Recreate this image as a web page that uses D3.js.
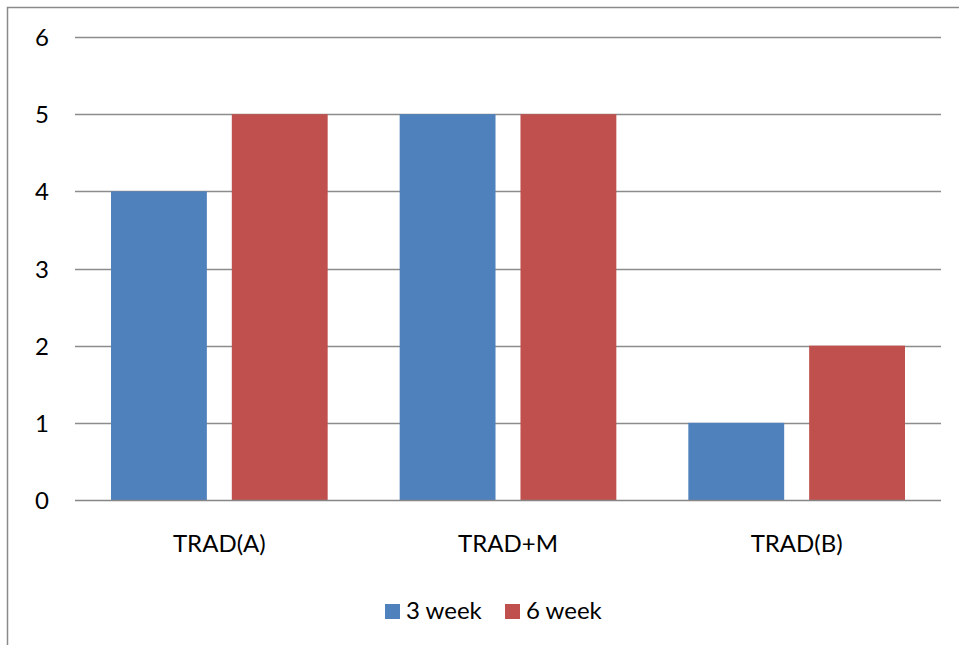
<!DOCTYPE html>
<html>
<head>
<meta charset="utf-8">
<script src="https://cdn.jsdelivr.net/npm/d3@7"></script>
<style>
  html, body { margin: 0; padding: 0; background: #fff; }
  svg { display: block; font-family: Lato, "Open Sans", sans-serif; }
</style>
</head>
<body>
<svg id="chart" width="959" height="645"></svg>
<script>
// Chart data
const categories = ["TRAD(A)", "TRAD+M", "TRAD(B)"];
const seriesNames = ["3 week", "6 week"];
const week3 = [4, 5, 1];
const week6 = [5, 5, 2];
const yTicks = [0, 1, 2, 3, 4, 5, 6];
const colors = ["#4F81BD", "#C0504D"];

const rows = categories.map((c, i) => ({ cat: c, values: [week3[i], week6[i]] }));

const FONT = "Lato, 'Open Sans', sans-serif";
const FONT_SIZE = 24;

const svg = d3.select("#chart");

// Outer chart frame
svg.append("rect")
  .attr("x", 7.5).attr("y", 7.5)
  .attr("width", 1000).attr("height", 700)
  .attr("fill", "none")
  .attr("stroke", "#8a8a8a")
  .attr("stroke-width", 1.5);

const plot = { left: 75, right: 941, top: 37, bottom: 500 };

const y = d3.scaleLinear().domain([0, 6]).range([plot.bottom, plot.top]);
const x = d3.scaleBand().domain(categories).range([plot.left, plot.right]).padding(0);
const outerGap = 36;
const xInner = d3.scaleBand()
  .domain(d3.range(seriesNames.length))
  .range([outerGap, x.bandwidth() - outerGap])
  .paddingInner(0.2066)
  .paddingOuter(0);

// Horizontal gridlines
svg.append("g")
  .selectAll("line")
  .data(yTicks.filter(t => t !== 0))
  .join("line")
  .attr("x1", plot.left).attr("x2", plot.right)
  .attr("y1", d => Math.round(y(d)) + 0.5)
  .attr("y2", d => Math.round(y(d)) + 0.5)
  .attr("stroke", "#8c8c8c")
  .attr("stroke-width", 1.5);

// Bars
const groups = svg.append("g")
  .selectAll("g")
  .data(rows)
  .join("g")
  .attr("transform", d => `translate(${x(d.cat)},0)`);

groups.selectAll("rect")
  .data(d => d.values.map((v, i) => ({ v, i })))
  .join("rect")
  .attr("x", d => xInner(d.i))
  .attr("width", xInner.bandwidth())
  .attr("y", d => y(d.v))
  .attr("height", d => y(0) - y(d.v))
  .attr("fill", d => colors[d.i]);

// Baseline
svg.append("line")
  .attr("x1", plot.left).attr("x2", plot.right)
  .attr("y1", y(0) + 0.5).attr("y2", y(0) + 0.5)
  .attr("stroke", "#868686")
  .attr("stroke-width", 1.5);

// Y axis labels
const yAxis = d3.axisLeft(y).tickValues(yTicks).tickSize(0).tickPadding(0).tickFormat(d3.format("d"));
const yg = svg.append("g").attr("transform", `translate(49,0)`).call(yAxis);
yg.select(".domain").remove();
yg.selectAll("text")
  .attr("font-size", FONT_SIZE)
  .attr("font-family", FONT)
  .attr("fill", "#000")
  .attr("dy", "0.36em");

// X axis labels
const xAxis = d3.axisBottom(x).tickSize(0).tickPadding(0);
const xg = svg.append("g").attr("transform", `translate(0,${plot.bottom})`).call(xAxis);
xg.select(".domain").remove();
xg.selectAll("text")
  .attr("font-size", FONT_SIZE)
  .attr("font-family", FONT)
  .attr("fill", "#000")
  .attr("dy", 0)
  .attr("y", 52);

// Legend
const legendX = [385, 505];
const legend = svg.append("g")
  .selectAll("g")
  .data(seriesNames)
  .join("g")
  .attr("transform", (d, i) => `translate(${legendX[i]},604)`);
legend.append("rect")
  .attr("width", 15).attr("height", 15)
  .attr("fill", (d, i) => colors[i]);
legend.append("text")
  .attr("x", 21).attr("y", 15)
  .attr("font-size", FONT_SIZE)
  .attr("font-family", FONT)
  .attr("fill", "#000")
  .text(d => d);
</script>
</body>
</html>
